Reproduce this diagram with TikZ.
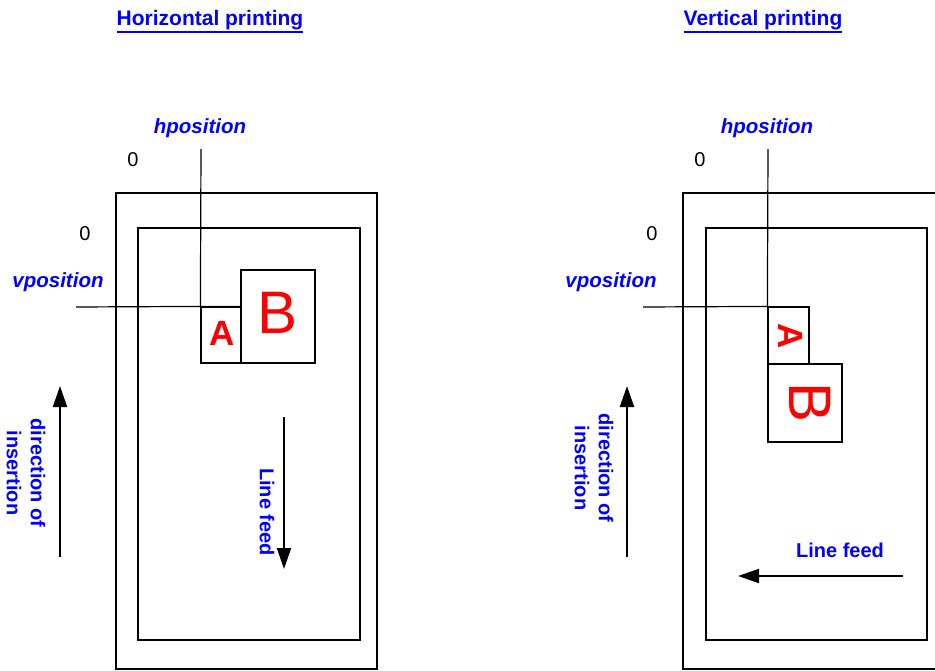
\documentclass[tikz,border=0pt]{standalone}
\usepackage{fontspec}
\setmainfont{Liberation Sans}
\usetikzlibrary{arrows.meta}
\newcommand{\thickul}[1]{\setbox0\hbox{#1}\vtop{\copy0\kern2pt\hrule height 1.6pt width \wd0}}
\begin{document}
\begin{tikzpicture}[x=1pt,y=-1pt,line width=1.2pt,
  title/.style={font=\fontsize{21}{24}\selectfont\bfseries,text=blue,inner sep=0pt},
  lbl/.style={font=\fontsize{20.5}{23}\selectfont\bfseries\itshape,text=blue,inner sep=0pt},
  bluetxt/.style={font=\fontsize{20}{24}\selectfont\bfseries,text=blue,align=center,inner sep=0pt},
  zero/.style={font=\fontsize{20}{23}\selectfont,inner sep=0pt},
  frame/.style={draw,line width=1.2pt,inner sep=0pt},
  letA/.style={font=\fontsize{35}{40}\selectfont\bfseries,text=red,inner sep=0pt},
  letB/.style={font=\fontsize{60}{66}\selectfont,text=red,inner sep=0pt},
  arr/.style={-{Triangle[length=21pt,width=14pt]},line width=2pt}]
\useasboundingbox (0,0) rectangle (935,670);
\clip (0,0) rectangle (935,670);

% ---------- Horizontal printing ----------
\node[title,anchor=base] (t1) at (210,25) {\thickul{Horizontal printing}};
\node[frame,minimum width=261pt,minimum height=476pt] (outer1) at (246.5,431) {};
\node[frame,minimum width=222pt,minimum height=412pt] (inner1) at (249,434) {};
\node[frame,minimum width=40pt,minimum height=56pt] (boxA1) at (221,335) {};
\node[frame,minimum width=74pt,minimum height=93pt] (boxB1) at (278,316.5) {};
\node[letA] (a1) at (222,333) {A};
\node[letB] (b1) at (278,313) {B};
\coordinate (htop1) at (201,149);
\coordinate (vleft1) at (76,307);
\draw (htop1) -- (boxA1.north west);
\draw (vleft1) -- (boxA1.north west) -- (boxA1.north east);
\node[lbl] (hp1) at (200,128) {hposition};
\node[lbl] (vp1) at (58,282) {vposition};
\node[zero] (z1) at (133,160) {0};
\node[zero] (z2) at (85,234) {0};
\coordinate (ins1s) at (60,557);
\coordinate (ins1e) at (60,386);
\draw[arr] (ins1s) -- (ins1e);
\node[bluetxt,rotate=-90] (ins1) at (26,473) {direction of\\insertion};
\coordinate (lf1s) at (284,417);
\coordinate (lf1e) at (284,569);
\draw[arr] (lf1s) -- (lf1e);
\node[bluetxt,rotate=-90] (lf1) at (267,512) {Line feed};

% ---------- Vertical printing ----------
\node[title,anchor=base] (t2) at (763,25) {\thickul{Vertical printing}};
\node[frame,minimum width=261pt,minimum height=476pt] (outer2) at (813.5,431) {};
\node[frame,minimum width=221pt,minimum height=412pt] (inner2) at (816.5,434) {};
\node[frame,minimum width=41pt,minimum height=57pt] (boxA2) at (788.5,335.5) {};
\node[frame,minimum width=74pt,minimum height=78pt] (boxB2) at (805,403) {};
\node[letA,rotate=-90] (a2) at (791,336) {A};
\node[letB,rotate=-90] (b2) at (810,403) {B};
\coordinate (htop2) at (768,149);
\coordinate (vleft2) at (643,307);
\draw (htop2) -- (boxA2.north west);
\draw (vleft2) -- (boxA2.north west);
\node[lbl] (hp2) at (767,128) {hposition};
\node[lbl] (vp2) at (611,282) {vposition};
\node[zero] (z3) at (700,160) {0};
\node[zero] (z4) at (652,234) {0};
\coordinate (ins2s) at (627,557);
\coordinate (ins2e) at (627,386);
\draw[arr] (ins2s) -- (ins2e);
\node[bluetxt,rotate=-90] (ins2) at (594,468) {direction of\\insertion};
\coordinate (lf2s) at (903,576);
\coordinate (lf2e) at (738,576);
\draw[arr] (lf2s) -- (lf2e);
\node[bluetxt] (lf2) at (840,550) {Line feed};
\end{tikzpicture}
\end{document}
